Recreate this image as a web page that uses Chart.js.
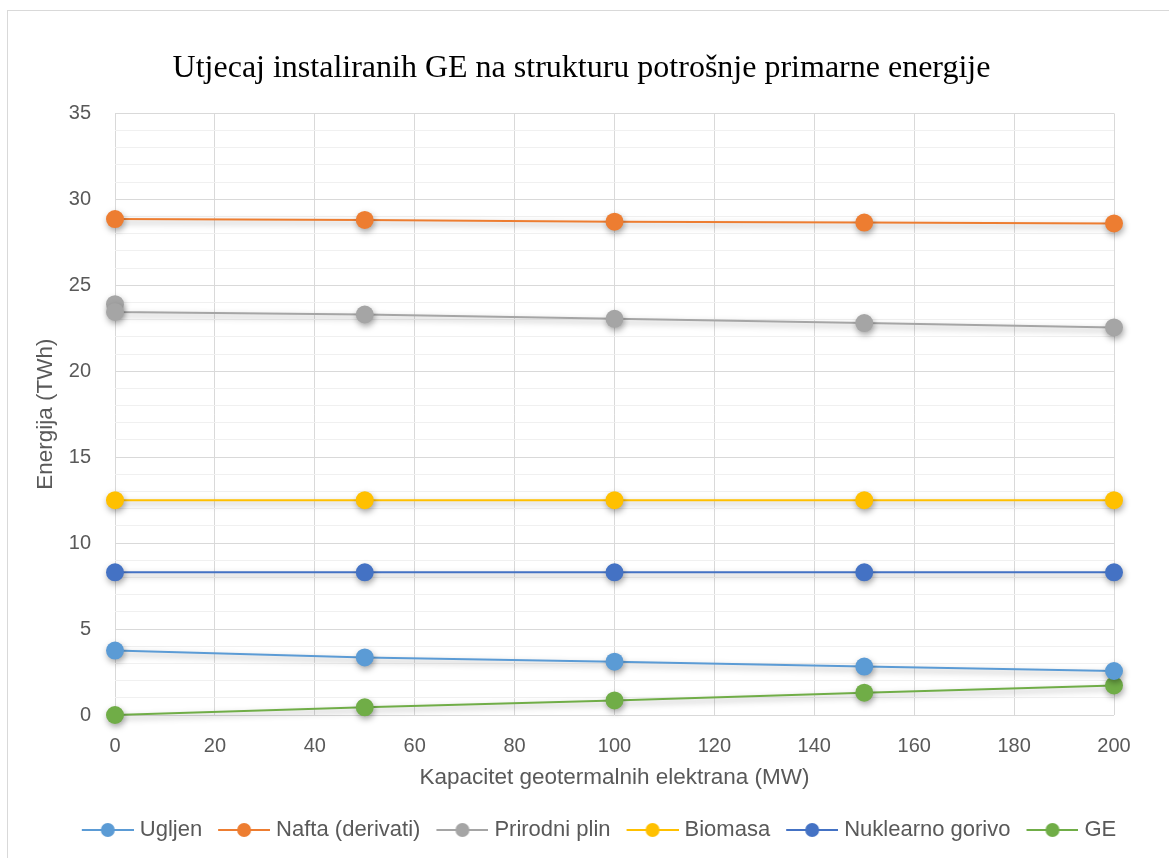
<!DOCTYPE html>
<html>
<head>
<meta charset="utf-8">
<script src="https://cdn.jsdelivr.net/npm/chart.js@4/dist/chart.umd.min.js"></script>
<style>
  html, body { margin: 0; padding: 0; background: #fff; }
  #wrap { position: relative; width: 1169px; height: 858px; }
  #frame { position: absolute; left: 7px; top: 10px; width: 1180px; height: 860px; border: 1px solid #d9d9d9; box-sizing: border-box; }
  canvas { position: absolute; left: 0; top: 0; }
</style>
</head>
<body>
<div id="wrap">
  <div id="frame"></div>
  <canvas id="myChart" width="1169" height="858"></canvas>
</div>
<script>
// data
const kapacitet = [0, 50, 100, 150, 200];
const ugljen = [3.75, 3.35, 3.1, 2.82, 2.56];
const nafta = [28.85, 28.8, 28.7, 28.65, 28.6];
const plinX = [0, 0, 50, 100, 150, 200];
const prirodniPlin = [23.9, 23.45, 23.3, 23.05, 22.8, 22.55];
const biomasa = [12.5, 12.5, 12.5, 12.5, 12.5];
const nuklearno = [8.3, 8.3, 8.3, 8.3, 8.3];
const ge = [0, 0.45, 0.85, 1.3, 1.72];

const seriesNames = ['Ugljen', 'Nafta (derivati)', 'Prirodni plin', 'Biomasa', 'Nuklearno gorivo', 'GE'];
const seriesColors = ['#5B9BD5', '#ED7D31', '#A5A5A5', '#FFC000', '#4472C4', '#70AD47'];
const yTicks = [0, 5, 10, 15, 20, 25, 30, 35];

const sans = '"Liberation Sans", Arial, sans-serif';

const toPoints = (xs, ys) => ys.map((v, i) => ({x: xs[i], y: v}));
const seriesData = [
  toPoints(kapacitet, ugljen),
  toPoints(kapacitet, nafta),
  toPoints(plinX, prirodniPlin),
  toPoints(kapacitet, biomasa),
  toPoints(kapacitet, nuklearno),
  toPoints(kapacitet, ge)
];

// legend symbol: short line with a dot in the middle (left part of canvas left empty for spacing)
function legendIcon(color) {
  const c = document.createElement('canvas');
  c.width = 65; c.height = 18;
  const g = c.getContext('2d');
  g.strokeStyle = color;
  g.lineWidth = 2;
  g.beginPath(); g.moveTo(13, 9); g.lineTo(65, 9); g.stroke();
  g.fillStyle = color;
  g.beginPath(); g.arc(39, 9, 7, 0, Math.PI * 2); g.fill();
  return c;
}
const icons = seriesColors.map(legendIcon);

// soft shadow under lines and markers
const shadowPlugin = {
  id: 'shadow',
  beforeDatasetDraw(chart) {
    const c = chart.ctx;
    c.save();
    c.shadowColor = 'rgba(0,0,0,0.35)';
    c.shadowBlur = 6;
    c.shadowOffsetX = 1;
    c.shadowOffsetY = 3;
  },
  afterDatasetDraw(chart) {
    chart.ctx.restore();
  }
};

// center title and legend on the whole frame, not the padded area
const centerPlugin = {
  id: 'centerBlocks',
  afterLayout(chart) {
    if (chart.titleBlock) { chart.titleBlock.left = 0; chart.titleBlock.right = 1163; }
    if (chart.legend) { chart.legend.left = 27; chart.legend.right = 1163; }
  }
};

const ctx = document.getElementById('myChart');

var myChart = new Chart(ctx, {
  type: 'line',
  data: {
    datasets: seriesNames.map((name, i) => ({
      label: name,
      data: seriesData[i],
      borderColor: seriesColors[i],
      backgroundColor: seriesColors[i],
      borderWidth: 2,
      pointRadius: 9,
      pointHoverRadius: 9,
      pointBorderWidth: 0,
      pointBackgroundColor: seriesColors[i],
      tension: 0,
      clip: false
    }))
  },
  options: {
    responsive: false,
    animation: false,
    layout: { padding: { left: 10, right: 55, top: 0, bottom: 7 } },
    plugins: {
      title: {
        display: true,
        text: 'Utjecaj instaliranih GE na strukturu potrošnje primarne energije',
        font: { family: '"Liberation Serif", "Times New Roman", serif', size: 32, weight: 'normal' },
        color: '#000',
        padding: { top: 49, bottom: 26 }
      },
      legend: {
        position: 'bottom',
        labels: {
          usePointStyle: true,
          pointStyleWidth: 55,
          padding: 8,
          color: '#595959',
          font: { family: sans, size: 22 },
          generateLabels: (chart) => chart.data.datasets.map((ds, i) => ({
            text: ds.label,
            pointStyle: icons[i],
            fillStyle: ds.borderColor,
            strokeStyle: ds.borderColor,
            fontColor: '#595959',
            lineWidth: 0,
            datasetIndex: i,
            hidden: false
          }))
        }
      },
      tooltip: { enabled: false }
    },
    scales: {
      x: {
        type: 'linear',
        min: 0,
        max: 200,
        afterFit: (scale) => { scale.height = 96; },
        ticks: {
          stepSize: 20,
          color: '#595959',
          padding: 19,
          font: { family: sans, size: 20 }
        },
        grid: { color: '#d9d9d9', lineWidth: 1, drawTicks: false },
        border: { display: false },
        title: {
          display: true,
          text: 'Kapacitet geotermalnih elektrana (MW)',
          color: '#595959',
          font: { family: sans, size: 22.5 },
          padding: { top: 6, bottom: 19.5 }
        }
      },
      y: {
        min: 0,
        max: 35,
        afterFit: (scale) => { scale.width = 105; },
        ticks: {
          stepSize: 1,
          autoSkip: false,
          color: '#595959',
          padding: 24,
          font: { family: sans, size: 20 },
          callback: (v) => yTicks.includes(v) ? String(v) : ''
        },
        grid: {
          drawTicks: false,
          lineWidth: 1,
          color: (c) => (c.tick && c.tick.value % 5 === 0) ? '#d9d9d9' : '#f0f0f0'
        },
        border: { display: false },
        title: {
          display: true,
          text: 'Energija (TWh)',
          color: '#595959',
          font: { family: sans, size: 22.5 },
          padding: { top: 22.5, bottom: 6 }
        }
      }
    }
  },
  plugins: [shadowPlugin, centerPlugin]
});
</script>
</body>
</html>
